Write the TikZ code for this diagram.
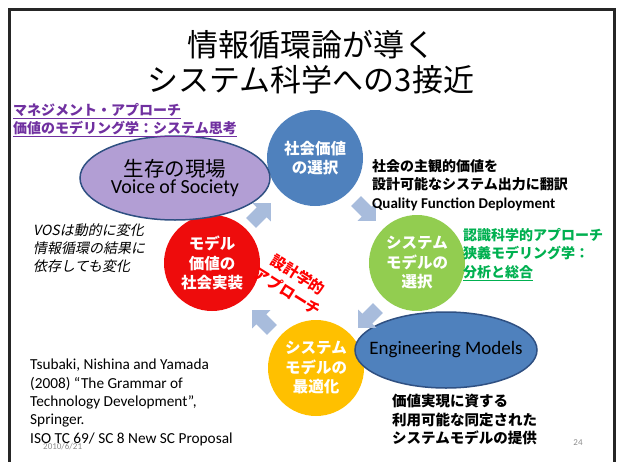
\documentclass[tikz,border=0pt]{standalone}
\usepackage{fontspec}
\setmainfont{Carlito}
\newfontfamily\jp{Noto Sans CJK JP}[AutoFakeSlant=0.2]
\usetikzlibrary{shapes.geometric}
\definecolor{cblue}{RGB}{79,129,189}
\definecolor{cgreen}{RGB}{146,205,80}
\definecolor{corange}{RGB}{255,192,0}
\definecolor{cred}{RGB}{238,12,12}
\definecolor{clav}{RGB}{178,158,212}
\definecolor{cedge}{RGB}{47,80,130}
\definecolor{carrow}{RGB}{168,188,220}
\definecolor{cpurple}{RGB}{112,48,160}
\definecolor{cgtext}{RGB}{0,176,80}
\begin{document}
\begin{tikzpicture}[x=1pt,y=-1pt,
  circ/.style={circle, minimum size=96, inner sep=0, text=white, align=center,
    font=\jp\bfseries\fontsize{15.5}{19.5}\selectfont},
  oval/.style={ellipse, draw=cedge, line width=1.5pt, inner sep=0},
  blockarrow/.style={fill=carrow},
  note/.style={anchor=north west, align=left, inner sep=0}]
\path[use as bounding box] (0,0) rectangle (619,461);
% frame
\draw[line width=3pt, black!85] (9,470) -- (9,9) -- (614,9) -- (614,470);
% title
\node[font=\jp\fontsize{31}{35}\selectfont, align=center] (title) at (311,62) {情報循環論が導く\\システム科学への3接近};
% circles
\node[circ, fill=cred] (red) at (212,263) {モデル\\価値の\\社会実装};
\node[circ, fill=cblue] (blue) at (315,158) {社会価値\\の選択};
\node[circ, fill=cgreen] (green) at (417,263) {システム\\モデルの\\選択};
\node[circ, fill=corange] (orange) at (316,368) {システム\\モデルの\\最適化};
% ellipses
\node[oval, fill=clav, minimum width=190, minimum height=84] (vos) at (175,178) {};
\node[align=center, inner sep=0] (vostext) at (vos.center)
  {{\jp\fontsize{20.5}{24}\selectfont 生存の現場}\\[1pt]{\fontsize{20}{24}\selectfont Voice of Society}};
\node[oval, fill=cblue, minimum width=182, minimum height=76] (eng) at (446,350) {};
\node[inner sep=0, font=\fontsize{19}{22}\selectfont] (engtext) at (eng.center) {Engineering Models};
% arrows (block arrows drawn as shapes)
\foreach \px/\py/\ang in {366/211/-45, 368/318/-135, 262/320/135, 261/213/45}{
  \fill[blockarrow, shift={(\px,\py)}, rotate=\ang]
    (-14,-7) -- (1,-7) -- (1,-13) -- (14,0) -- (1,13) -- (1,7) -- (-14,7) -- cycle;
}
% rotated red text
\node[rotate=-32, text=red, align=center, font=\jp\bfseries\fontsize{15}{19.5}\selectfont] (design) at (293,283) {設計学的\\アプローチ};
% purple text
\node[note, text=cpurple, font=\jp\bfseries\itshape\fontsize{14}{18}\selectfont] (mgmt) at (13,103)
  {\underline{マネジメント・アプローチ}\\\underline{価値のモデリング学：システム思考}};
% QFD text
\node[note, font=\jp\bfseries\fontsize{14}{18.5}\selectfont] (qfd) at (372,159)
  {社会の主観的価値を\\設計可能なシステム出力に翻訳\\{\rmfamily\bfseries\fontsize{15}{18}\selectfont Quality Function Deployment}};
% green text
\node[note, text=cgtext, font=\jp\bfseries\fontsize{14}{18.5}\selectfont] (cog) at (463,228)
  {認識科学的アプローチ\\狭義モデリング学：\\{\itshape\underline{分析と総合}}};
% VOS note
\node[note, font=\jp\itshape\fontsize{14}{18.3}\selectfont] (vosnote) at (33,223)
  {VOSは動的に変化\\情報循環の結果に\\依存しても変化};
% references
\node[note, font=\fontsize{15.3}{18.3}\selectfont] (ref) at (30,359)
  {Tsubaki, Nishina and Yamada\\(2008) “The Grammar of\\Technology Development”,\\Springer.\\ISO TC 69/ SC 8 New SC Proposal};
\node[anchor=west, inner sep=0, text=black!45, font=\fontsize{9}{10}\selectfont] (date) at (43,447) {2010/6/21};
% bottom right
\node[note, font=\jp\bfseries\fontsize{14.5}{18.5}\selectfont] (prov) at (392,394)
  {価値実現に資する\\利用可能な同定された\\システムモデルの提供};
\node[inner sep=0, text=black!45, font=\fontsize{9}{10}\selectfont] (page) at (578,443) {24};
\end{tikzpicture}
\end{document}
